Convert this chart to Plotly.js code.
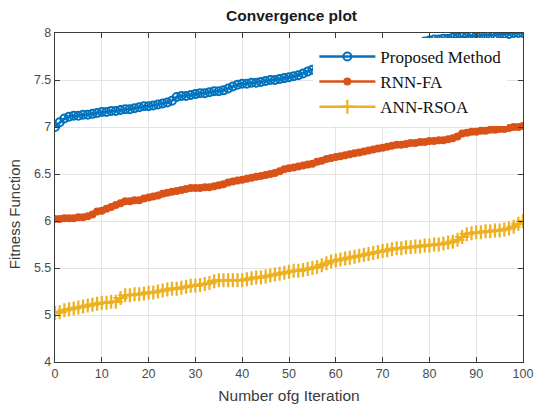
<!DOCTYPE html>
<html>
<head>
<meta charset="utf-8">
<script src="https://cdn.plot.ly/plotly-3.0.1.min.js"></script>
<style>html,body{margin:0;padding:0;background:#fff;overflow:hidden;}#chart{width:535px;height:410px;}</style>
</head>
<body>
<div id="chart"></div>
<script>
const seriesNames = ["Proposed Method", "RNN-FA", "ANN-RSOA"];

const iterations = [];
for (let i = 0; i <= 100; i++) iterations.push(i);

const proposedMethod = [
  7.00, 7.05, 7.09, 7.11, 7.12, 7.12, 7.13, 7.13, 7.14, 7.15,
  7.16, 7.16, 7.17, 7.17, 7.18, 7.19, 7.19, 7.20, 7.21, 7.22,
  7.22, 7.23, 7.24, 7.25, 7.26, 7.28, 7.32, 7.33, 7.33, 7.34,
  7.35, 7.36, 7.36, 7.37, 7.38, 7.38, 7.39, 7.41, 7.43, 7.45,
  7.46, 7.46, 7.47, 7.47, 7.48, 7.49, 7.50, 7.50, 7.51, 7.52,
  7.53, 7.54, 7.55, 7.57, 7.59, 7.61, 7.62, 7.63, 7.64, 7.65,
  7.66, 7.67, 7.68, 7.69, 7.70, 7.71, 7.72, 7.73, 7.74, 7.76,
  7.77, 7.78, 7.80, 7.81, 7.82, 7.84, 7.85, 7.87, 7.89, 7.91,
  7.92, 7.93, 7.93, 7.94, 7.94, 7.95, 7.95, 7.96, 7.96, 7.97,
  7.97, 7.97, 7.98, 7.98, 7.98, 7.99, 7.99, 7.99, 8.00, 8.00,
  8.00
];

const rnnFA = [
  6.02, 6.02, 6.03, 6.03, 6.03, 6.04, 6.04, 6.05, 6.07, 6.10,
  6.11, 6.13, 6.15, 6.17, 6.19, 6.21, 6.21, 6.22, 6.22, 6.24,
  6.25, 6.26, 6.27, 6.29, 6.30, 6.31, 6.32, 6.33, 6.34, 6.35,
  6.35, 6.35, 6.36, 6.36, 6.37, 6.38, 6.39, 6.41, 6.42, 6.43,
  6.44, 6.45, 6.46, 6.47, 6.48, 6.49, 6.50, 6.51, 6.53, 6.55,
  6.56, 6.57, 6.58, 6.59, 6.60, 6.61, 6.63, 6.64, 6.66, 6.67,
  6.68, 6.69, 6.70, 6.71, 6.72, 6.73, 6.74, 6.75, 6.76, 6.77,
  6.78, 6.79, 6.80, 6.81, 6.81, 6.82, 6.83, 6.83, 6.84, 6.84,
  6.85, 6.85, 6.86, 6.86, 6.87, 6.88, 6.90, 6.93, 6.94, 6.95,
  6.95, 6.96, 6.96, 6.97, 6.97, 6.98, 6.98, 6.99, 7.00, 7.00,
  7.01
];

const annRSOA = [
  5.02, 5.03, 5.05, 5.06, 5.07, 5.08, 5.09, 5.10, 5.11, 5.12,
  5.13, 5.13, 5.14, 5.14, 5.18, 5.21, 5.21, 5.22, 5.22, 5.23,
  5.24, 5.24, 5.25, 5.26, 5.27, 5.28, 5.28, 5.29, 5.30, 5.31,
  5.31, 5.32, 5.33, 5.34, 5.36, 5.37, 5.37, 5.37, 5.37, 5.37,
  5.37, 5.38, 5.39, 5.40, 5.40, 5.41, 5.42, 5.43, 5.44, 5.45,
  5.46, 5.47, 5.47, 5.48, 5.49, 5.50, 5.51, 5.53, 5.55, 5.57,
  5.58, 5.59, 5.60, 5.61, 5.62, 5.63, 5.64, 5.65, 5.66, 5.67,
  5.68, 5.69, 5.70, 5.71, 5.71, 5.72, 5.72, 5.73, 5.73, 5.74,
  5.74, 5.75, 5.75, 5.76, 5.77, 5.78, 5.80, 5.83, 5.86, 5.87,
  5.88, 5.88, 5.89, 5.89, 5.90, 5.90, 5.91, 5.92, 5.94, 5.97,
  6.00
];

const xTickVals = [0, 10, 20, 30, 40, 50, 60, 70, 80, 90, 100];
const yTickVals = [4.5, 5, 5.5, 6, 6.5, 7, 7.5, 8];
const yTickText = ["4", "5", "5.5", "6", "6.5", "7", "7.5", "8"];

const traces = [
  {
    x: iterations, y: proposedMethod, name: seriesNames[0],
    type: "scatter", mode: "lines+markers",
    line: {color: "#0072BD", width: 2.5},
    marker: {symbol: "circle-open", size: 8, color: "#0072BD", line: {width: 2, color: "#0072BD"}}
  },
  {
    x: iterations, y: rnnFA, name: seriesNames[1],
    type: "scatter", mode: "lines+markers",
    line: {color: "#D95319", width: 2.5},
    marker: {symbol: "circle", size: 8, color: "#D95319"}
  },
  {
    x: iterations, y: annRSOA, name: seriesNames[2],
    type: "scatter", mode: "lines+markers",
    line: {color: "#EDB120", width: 2.5},
    marker: {symbol: "cross-thin-open", size: 10, color: "#EDB120", line: {width: 2.2, color: "#EDB120"}}
  }
];

const sans = "Liberation Sans, Arial, sans-serif";
const axisFont = {family: sans, size: 12.5, color: "#4a4a4a"};

const layout = {
  width: 535, height: 410,
  margin: {l: 55, r: 12, t: 33, b: 48},
  paper_bgcolor: "#ffffff", plot_bgcolor: "#ffffff",
  showlegend: true,
  title: {
    text: "<b>Convergence plot</b>",
    font: {family: sans, size: 15.5, color: "#1a1a1a"},
    x: 0.545, xanchor: "center", y: 0.962, yanchor: "middle"
  },
  xaxis: {
    range: [0, 100], tickvals: xTickVals, ticktext: xTickVals.map(String),
    ticklabeloverflow: "allow",
    showgrid: true, gridcolor: "#e4e4e4", gridwidth: 1,
    zeroline: false, showline: true, linecolor: "#3a3a3a", linewidth: 1.2, mirror: "ticks",
    ticks: "inside", ticklen: 5, tickcolor: "#3a3a3a",
    tickfont: axisFont,
    title: {text: "Number ofg Iteration", font: {family: sans, size: 15.5, color: "#3a3a3a"}, standoff: 10}
  },
  yaxis: {
    range: [4.5, 8], tickvals: yTickVals, ticktext: yTickText,
    showgrid: true, gridcolor: "#e4e4e4", gridwidth: 1,
    zeroline: false, showline: true, linecolor: "#3a3a3a", linewidth: 1.2, mirror: "ticks",
    ticks: "inside", ticklen: 5, tickcolor: "#3a3a3a",
    tickfont: axisFont
  },
  annotations: [{
    text: "Fitness Function", textangle: -90, showarrow: false,
    xref: "paper", yref: "paper", x: -0.085, y: 0.45, xanchor: "center", yanchor: "middle",
    font: {family: sans, size: 15, color: "#3a3a3a"}
  }],
  legend: {
    x: 0.552, y: 0.985, xanchor: "left", yanchor: "top",
    bgcolor: "#ffffff", bordercolor: "#ffffff", borderwidth: 1,
    font: {family: "Liberation Serif, Times New Roman, serif", size: 17, color: "#111111"},
    itemwidth: 56, tracegroupgap: 0
  }
};

Plotly.newPlot("chart", traces, layout, {displayModeBar: false, staticPlot: true});
</script>
</body>
</html>
